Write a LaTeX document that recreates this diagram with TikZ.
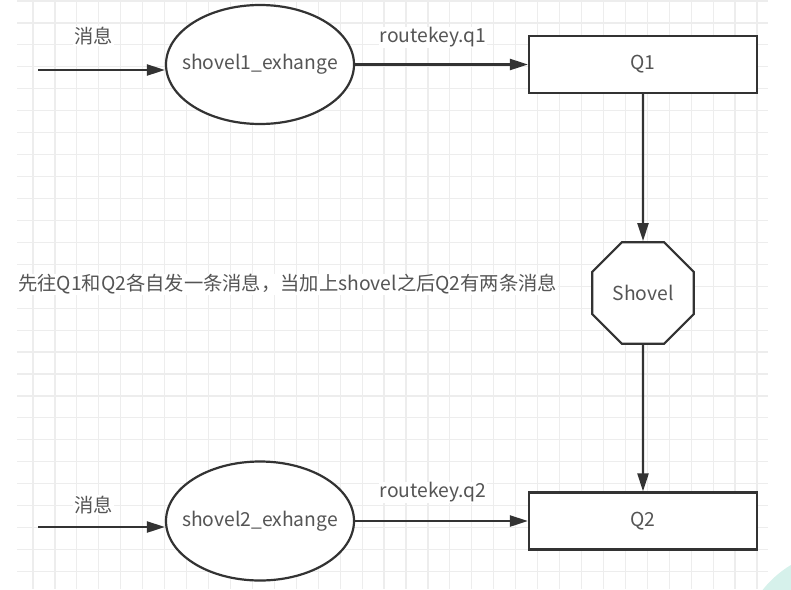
\documentclass[tikz,border=0pt]{standalone}
\usepackage{fontspec}
\setmainfont{Noto Sans CJK SC}
\usepackage{xcolor}
\usepackage{tikz}
\usetikzlibrary{
	arrows.meta,
	positioning,
	shapes.geometric
}
\definecolor{edgegray}{HTML}{333333}
\definecolor{textgray}{HTML}{555555}
\definecolor{gridgray}{HTML}{EDEDED}
\definecolor{tealmark}{HTML}{D6F1EB}

\begin{document}
\begin{tikzpicture}[x=1pt,y=-1pt,font=\fontsize{19.3}{22}\selectfont,
	exbox/.style={draw=edgegray,fill=white,line width=2.2pt,ellipse,minimum width=188pt,minimum height=119pt,inner sep=0pt,text=textgray},
	queuebox/.style={draw=edgegray,fill=white,line width=2.2pt,rectangle,minimum width=228pt,minimum height=57pt,text=textgray},
	lbl/.style={text=textgray,fill=white,inner sep=1pt},
	flow/.style={-{Triangle[length=18pt,width=11pt]},line width=2.3pt,draw=edgegray}]
			
			\useasboundingbox (0,0) rectangle (791,589);
			
			% background grid
			\foreach \i in {0,...,33}
			\draw[gridgray,line width=1.2pt] ({33+21.94*\i},0) -- ({33+21.94*\i},589);
			\foreach \j in {0,...,26}
			\draw[gridgray,line width=1.2pt] (17,{1+21.94*\j}) -- (768,{1+21.94*\j});
			
			\begin{scope}
				\clip (0,0) rectangle (791,589);
				\fill[tealmark] (845,655) circle[radius=105];
			\end{scope}
			
			\node[exbox] (ex1) at (260,64.5) {\makebox[0pt]{shovel1\_exhange}};
			\node[queuebox] (q1) at (643,64.5) {Q1};
			
			\node[draw=edgegray,fill=white,line width=2.2pt,regular polygon,regular polygon sides=8,minimum size=110pt,inner sep=0pt,text=textgray] (shovel) at (643,293) {Shovel};
			
			\node[queuebox] (q2) at (643,521) {Q2};
			\node[exbox] (ex2) at (260,521) {\makebox[0pt]{shovel2\_exhange}};
			
			\coordinate (in1) at (38,70);
			\coordinate (in2) at (38,527);
			
			\node[lbl] (msg1) at (93.5,36) {消息};
			\node[lbl] (rk1) at (433,37.5) {routekey.q1};
			\node[lbl] (msg2) at (93.5,505) {消息};
			\node[lbl] (rk2) at (433,492.5) {routekey.q2};
			\node[lbl,anchor=west] (note) at (17,284.5) {先往Q1和Q2各自发一条消息，当加上shovel之后Q2有两条消息};
			
			\draw[flow] (in1)--(in1 -| ex1.west);
			\draw[flow] (ex1)--(q1);
			\draw[flow] (q1)--(shovel);
			\draw[flow] (shovel)--(q2);
			\draw[flow] (in2)--(in2 -| ex2.west);
			\draw[flow] (ex2)--(q2);
			
		\end{tikzpicture}
\end{document}
